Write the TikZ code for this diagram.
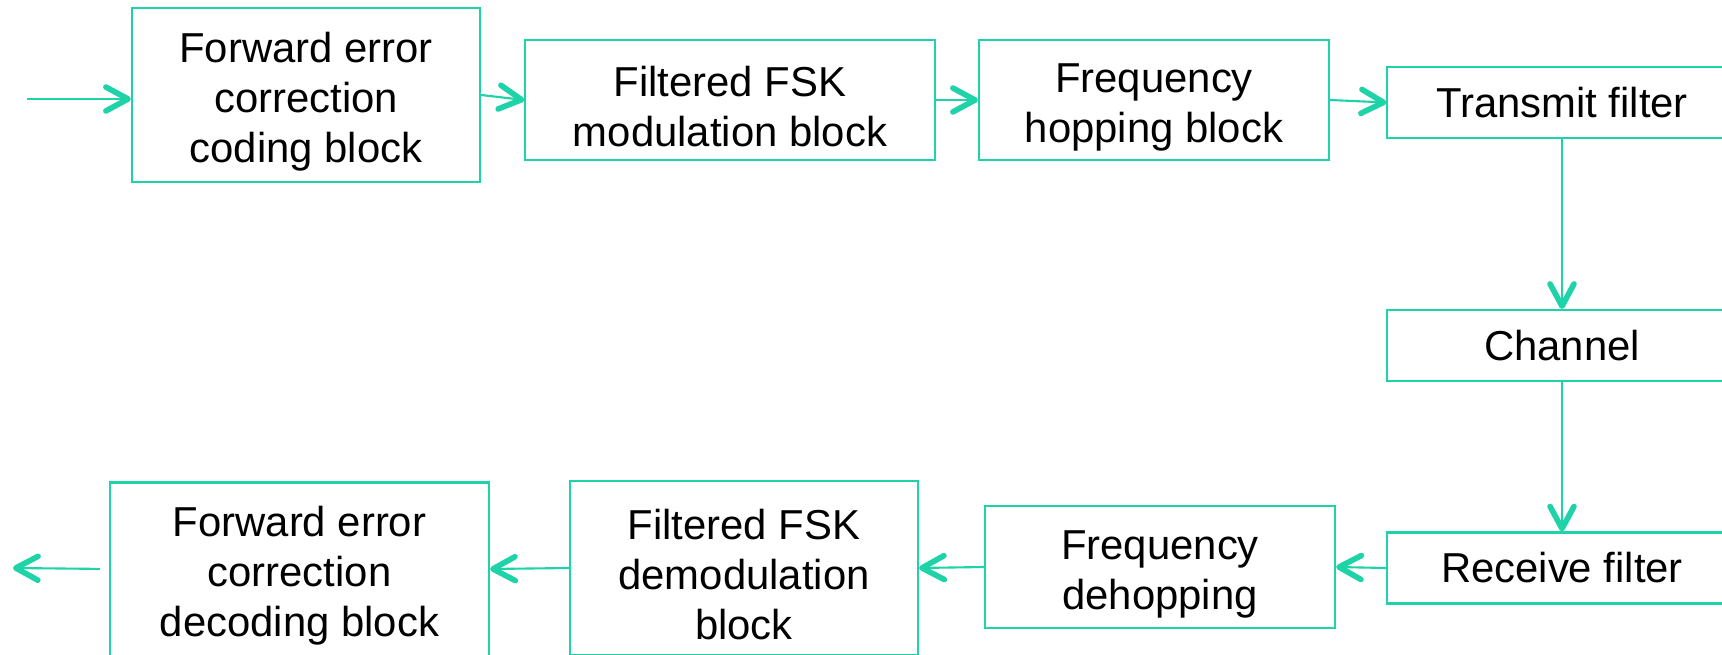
\documentclass[tikz,border=0pt]{standalone}
\usepackage{fontspec}
\setmainfont{Liberation Sans}
\usetikzlibrary{arrows.meta}
\definecolor{flow}{HTML}{1DD3A7}
% taller first line, so multi-line text sits a little low in its box
\newcommand\liftline{\rule{0pt}{12.2pt}}

\begin{document}
\begin{tikzpicture}[x=0.01cm,y=-0.01cm,font=\fontsize{11.9}{14.2}\selectfont,
 blk/.style={draw=flow,line width=0.6pt,align=center,inner sep=0pt},
 link/.style={draw=flow,line width=0.6pt,-{Straight Barb[length=6.3pt,width=6.8pt,line width=1.6pt,round]}}]
 \useasboundingbox (0,0) rectangle (1722,655);
 % transmit chain along the top, channel on the right, receive chain along the bottom
 \foreach \name/\x/\y/\w/\h/\txt in {
  fec/306/95/3.48/1.74/{\liftline Forward error\\correction\\coding block},
  fsk/730/100/4.09/1.20/{\liftline Filtered FSK\\modulation block},
  hop/1154/100/3.50/1.20/{\liftline Frequency\\hopping block},
  tx/1562/102.5/3.49/0.71/{Transmit filter},
  chan/1562/345.5/3.49/0.71/{Channel},
  rx/1562/568/3.49/0.71/{Receive filter},
  dehop/1160/567/3.50/1.22/{\liftline Frequency\\dehopping},
  demod/744/568/3.48/1.74/{\liftline Filtered FSK\\demodulation\\block},
  fecdec/299.5/569/3.79/1.73/{\liftline Forward error\\correction\\decoding block}}{
  \node[blk,minimum width=\w cm,minimum height=\h cm](\name)at(\x,\y){\txt};}
 \coordinate (in) at (27,99);
 \coordinate (out) at (13,568);
 \draw[link](in)--(in-|fec.west);
 \draw[link](fec.east)--(fsk.west);
 \draw[link](fsk.east)--(hop.west);
 \draw[link](hop.east)--(tx.west);
 \draw[link](tx.south)--(chan.north);
 \draw[link](chan.south)--(rx.north);
 \draw[link](rx.west)--(dehop.east);
 \draw[link](dehop.west)--(demod.east);
 \draw[link](demod.west)--(fecdec.east);
 \draw[link,shorten <=0.09cm](fecdec.west)--(out);
\end{tikzpicture}
\end{document}
